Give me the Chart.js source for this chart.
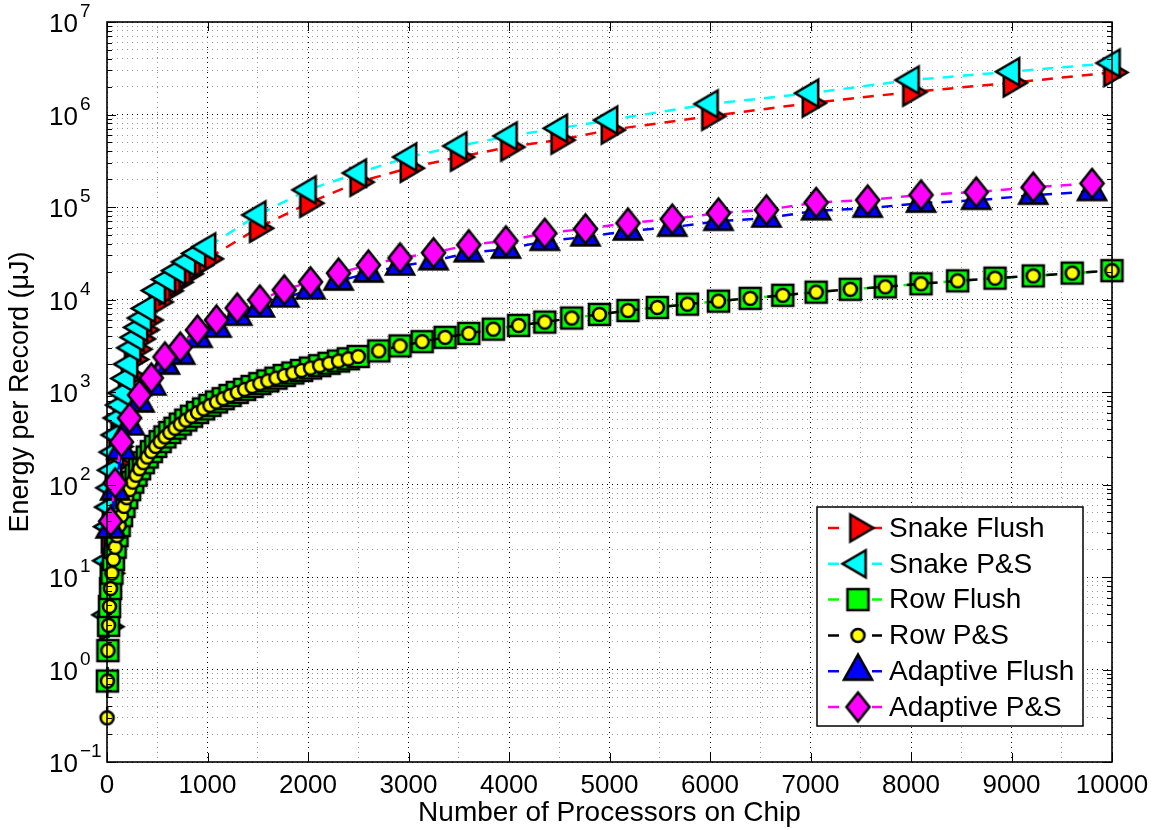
<!DOCTYPE html>
<html>
<head>
<meta charset="utf-8">
<title>Energy per Record</title>
<script src="https://cdn.jsdelivr.net/npm/chart.js@4.4.1/dist/chart.umd.min.js"></script>
<style>
  html, body { margin: 0; padding: 0; background: #fff; }
</style>
</head>
<body>
<canvas id="energyChart" width="1159" height="830"></canvas>
<script>
// values (x = processors on chip, y = energy per record in uJ)
const snakeProcs = [9, 16, 25, 36, 49, 64, 81, 100, 121, 144, 169, 196, 225, 256, 289, 324, 361, 400,
  500, 600, 700, 800, 900, 1000, 1500, 2000, 2500, 3000, 3500, 4000, 4500, 5000,
  6000, 7000, 8000, 9000, 10000];
const snakeFlush = [2.9, 11, 26, 43, 69, 107, 168, 257, 393, 542, 731, 1050, 1500, 2250, 2900, 3750, 4700, 6000,
  9400, 12400, 15400, 19000, 23500, 27500, 59000, 110000, 186000, 263000, 347000, 445000, 530000, 680000,
  960000, 1330000, 1750000, 2200000, 2850000];
const snakePS = [3.9, 15, 35, 57, 92, 143, 224, 343, 524, 723, 975, 1400, 2000, 3000, 3900, 5000, 6300, 8000,
  12500, 16500, 20500, 25500, 31500, 37000, 82000, 153000, 233000, 347000, 456000, 585000, 710000, 870000,
  1300000, 1700000, 2360000, 2900000, 3600000];

const rowProcs = [1, 4, 9, 16, 25, 36, 49, 64, 81, 100, 121, 144, 169, 196, 225, 256, 289, 324, 361, 400,
  441, 484, 529, 576, 625, 676, 729, 784, 841, 900, 961, 1024, 1089, 1156, 1225, 1296, 1369, 1444, 1521, 1600,
  1681, 1764, 1849, 1936, 2025, 2116, 2209, 2304, 2401, 2500, 2704, 2916, 3136, 3364, 3600, 3844, 4096, 4356,
  4624, 4900, 5184, 5476, 5776, 6084, 6400, 6724, 7056, 7396, 7744, 8100, 8464, 8836, 9216, 9604, 10000];
const rowFlush = [null, 0.75, 1.6, 3.0, 4.8, 7.5, 11, 15.5, 21, 28, 36, 46, 58, 72, 88, 106, 126, 148, 172, 198,
  227, 258, 291, 327, 365, 406, 450, 497, 547, 600, 657, 717, 780, 847, 917, 990, 1067, 1148, 1232, 1320,
  1412, 1508, 1607, 1710, 1817, 1928, 2043, 2162, 2285, 2420, 2780, 3150, 3500, 3900, 4300, 4780, 5250, 5700,
  6300, 6900, 7600, 8200, 8900, 9600, 10300, 11100, 12000, 12900, 13700, 14800, 15900, 17000, 18000, 19300, 20500];
const rowPS = [0.3, 0.75, 1.6, 3.0, 4.8, 7.5, 11, 15.5, 21, 28, 36, 46, 58, 72, 88, 106, 126, 148, 172, 198,
  227, 258, 291, 327, 365, 406, 450, 497, 547, 600, 657, 717, 780, 847, 917, 990, 1067, 1148, 1232, 1320,
  1412, 1508, 1607, 1710, 1817, 1928, 2043, 2162, 2285, 2420, 2780, 3150, 3500, 3900, 4300, 4780, 5250, 5700,
  6300, 6900, 7600, 8200, 8900, 9600, 10300, 11100, 12000, 12900, 13700, 14800, 15900, 17000, 18000, 19300, 20500];

const adaptProcs = [36, 81, 144, 225, 324, 441, 576, 729, 900, 1089, 1296, 1521, 1764, 2025, 2304, 2601,
  2916, 3249, 3600, 3969, 4356, 4761, 5184, 5625, 6084, 6561, 7056, 7569, 8100, 8649, 9216, 9801];
const adaptFlush = [33, 85, 235, 430, 760, 1160, 1950, 2500, 3800, 4900, 6600, 8100, 10400, 12700, 15800, 19300,
  23000, 26200, 32000, 35000, 42500, 47500, 55000, 60500, 70000, 76000, 91000, 97000, 110000, 118000, 134000, 147000];
const adaptPS = [40, 104, 288, 524, 929, 1417, 2390, 3060, 4680, 6000, 8090, 9890, 12700, 15500, 19300, 23600,
  28100, 32000, 39000, 43000, 52000, 58000, 67000, 74000, 86000, 93000, 112000, 119000, 135000, 145000, 164000, 180000];

const seriesNames = ['Snake Flush', 'Snake P&S', 'Row Flush', 'Row P&S', 'Adaptive Flush', 'Adaptive P&S'];
const xTickValues = [0, 1000, 2000, 3000, 4000, 5000, 6000, 7000, 8000, 9000, 10000];
const xMinorValues = [500, 1500, 2500, 3500, 4500, 5500, 6500, 7500, 8500, 9500];
const yExponents = [-1, 0, 1, 2, 3, 4, 5, 6, 7];
const yMinorMultiples = [2, 3, 4, 5, 6, 7, 8, 9];

const FONT = '"Liberation Sans", Arial, Helvetica, sans-serif';
Chart.defaults.font.family = FONT;
Chart.defaults.color = '#000';

// MATLAB-like marker with thick black edge, centred on its centroid
function markerCanvas(shape, fill) {
  const lw = 2.6, pad = 5;
  const polys = {
    right: [[-23 / 3, -13.5], [46 / 3, 0], [-23 / 3, 13.5]],
    left: [[23 / 3, -13.5], [-46 / 3, 0], [23 / 3, 13.5]],
    up: [[0, -50 / 3], [14, 25 / 3], [-14, 25 / 3]],
    square: [[-10.5, -10.5], [10.5, -10.5], [10.5, 10.5], [-10.5, 10.5]],
    diamond: [[0, -14.5], [11.5, 0], [0, 14.5], [-11.5, 0]]
  };
  const c = document.createElement('canvas');
  let hw = 6.5, hh = 6.5;
  if (polys[shape]) {
    hw = Math.max(...polys[shape].map(p => Math.abs(p[0])));
    hh = Math.max(...polys[shape].map(p => Math.abs(p[1])));
  }
  c.width = Math.ceil(2 * (hw + pad));
  c.height = Math.ceil(2 * (hh + pad));
  const g = c.getContext('2d');
  g.translate(c.width / 2, c.height / 2);
  g.beginPath();
  if (shape === 'circle') {
    g.arc(0, 0, 6.5, 0, Math.PI * 2);
  } else {
    polys[shape].forEach((p, i) => i ? g.lineTo(p[0], p[1]) : g.moveTo(p[0], p[1]));
    g.closePath();
  }
  g.fillStyle = fill;
  g.fill();
  g.lineWidth = lw;
  g.lineJoin = 'miter';
  g.strokeStyle = '#000';
  g.stroke();
  return c;
}

function points(xs, ys) {
  return xs.map((x, i) => ({ x: x, y: ys[i] }));
}

const datasets = [
  { label: seriesNames[0], data: points(snakeProcs, snakeFlush), borderColor: '#ff0000', pointStyle: markerCanvas('right', '#ff0000'), order: 6 },
  { label: seriesNames[1], data: points(snakeProcs, snakePS), borderColor: '#00ffff', pointStyle: markerCanvas('left', '#00ffff'), order: 5 },
  { label: seriesNames[2], data: points(rowProcs, rowFlush), borderColor: '#00ff00', pointStyle: markerCanvas('square', '#00ff00'), order: 4 },
  { label: seriesNames[3], data: points(rowProcs, rowPS), borderColor: '#000000', pointStyle: markerCanvas('circle', '#ffff00'), order: 3 },
  { label: seriesNames[4], data: points(adaptProcs, adaptFlush), borderColor: '#0000ff', pointStyle: markerCanvas('up', '#0000ff'), order: 2 },
  { label: seriesNames[5], data: points(adaptProcs, adaptPS), borderColor: '#ff00ff', pointStyle: markerCanvas('diamond', '#ff00ff'), order: 1 }
].map(d => Object.assign({
  borderWidth: 2.5, borderDash: [11, 9], pointRadius: 12, pointHoverRadius: 12,
  fill: false, tension: 0, clip: false, showLine: true
}, d));

function isDecade(v) {
  const l = Math.log10(v);
  return Math.abs(l - Math.round(l)) < 1e-6;
}

// inward ticks and the box round the axes
const axesFrame = {
  id: 'axesFrame',
  afterDatasetsDraw(chart) {
    const { ctx, chartArea: a, scales: { x, y } } = chart;
    ctx.save();
    ctx.strokeStyle = '#000';
    ctx.lineWidth = 1;
    ctx.beginPath();
    xTickValues.forEach(v => {
      const px = Math.round(x.getPixelForValue(v)) + 0.5;
      ctx.moveTo(px, a.bottom); ctx.lineTo(px, a.bottom - 9);
      ctx.moveTo(px, a.top); ctx.lineTo(px, a.top + 9);
    });
    yExponents.forEach(e => {
      const py = Math.round(y.getPixelForValue(Math.pow(10, e))) + 0.5;
      ctx.moveTo(a.left, py); ctx.lineTo(a.left + 9, py);
      ctx.moveTo(a.right, py); ctx.lineTo(a.right - 9, py);
      if (e < 7) {
        yMinorMultiples.forEach(m => {
          const pm = Math.round(y.getPixelForValue(m * Math.pow(10, e))) + 0.5;
          ctx.moveTo(a.left, pm); ctx.lineTo(a.left + 5, pm);
          ctx.moveTo(a.right, pm); ctx.lineTo(a.right - 5, pm);
        });
      }
    });
    ctx.stroke();
    ctx.lineWidth = 1.6;
    ctx.strokeRect(a.left, a.top, a.right - a.left, a.bottom - a.top);
    ctx.restore();
  }
};

// 10^k labels on the log axis
const logAxisLabels = {
  id: 'logAxisLabels',
  afterDraw(chart) {
    const { ctx, scales: { y } } = chart;
    ctx.save();
    ctx.fillStyle = '#000';
    ctx.textBaseline = 'middle';
    ctx.textAlign = 'left';
    yExponents.forEach(e => {
      const py = y.getPixelForValue(Math.pow(10, e));
      ctx.font = '26px ' + FONT;
      ctx.fillText('10', 49, py + 3);
      const w = ctx.measureText('10').width;
      ctx.font = '19px ' + FONT;
      ctx.fillText(String(e).replace('-', '\u2212'), 49 + w + 2, py - 10);
    });
    ctx.restore();
  }
};

// boxed legend inside the axes, line - marker - line
const boxedLegend = {
  id: 'boxedLegend',
  afterDraw(chart) {
    const { ctx, chartArea: a } = chart;
    const left = a.right - 295, top = a.bottom - 255, w = 266, h = 219;
    ctx.save();
    ctx.fillStyle = '#fff';
    ctx.fillRect(left, top, w, h);
    ctx.strokeStyle = '#000';
    ctx.lineWidth = 1.5;
    ctx.strokeRect(left, top, w, h);
    chart.data.datasets.forEach((ds, i) => {
      const cy = top + 21 + i * 35.8;
      ctx.strokeStyle = ds.borderColor;
      ctx.lineWidth = 2.5;
      ctx.beginPath();
      ctx.moveTo(left + 11, cy); ctx.lineTo(left + 22, cy);
      ctx.moveTo(left + 55, cy); ctx.lineTo(left + 65, cy);
      ctx.stroke();
      const img = ds.pointStyle;
      ctx.drawImage(img, left + 41 - img.width / 2, cy - img.height / 2);
      ctx.fillStyle = '#000';
      ctx.font = '28px ' + FONT;
      ctx.textBaseline = 'middle';
      ctx.textAlign = 'left';
      ctx.fillText(ds.label, left + 72, cy + 1);
    });
    ctx.restore();
  }
};

const energyChart = document.getElementById('energyChart').getContext('2d');
new Chart(energyChart, {
  type: 'line',
  data: { datasets: datasets },
  options: {
    responsive: false,
    animation: false,
    devicePixelRatio: 1,
    layout: { padding: { top: 22, right: 47, bottom: 0, left: 0 } },
    plugins: { legend: { display: false }, tooltip: { enabled: false } },
    scales: {
      x: {
        type: 'linear',
        min: 0,
        max: 10000,
        afterBuildTicks: s => {
          s.ticks = xTickValues.concat(xMinorValues).sort((p, q) => p - q).map(v => ({ value: v }));
        },
        afterFit: s => { s.height = 68; },
        grid: {
          drawTicks: false,
          color: c => (c.tick && c.tick.value % 1000 === 0) ? '#000000' : '#9a9a9a',
          lineWidth: 1
        },
        border: { display: false, dash: [1, 4] },
        ticks: {
          autoSkip: false,
          maxRotation: 0,
          padding: 8,
          font: { size: 26 },
          callback: v => xTickValues.includes(v) ? String(v) : ''
        },
        title: {
          display: true,
          text: 'Number of Processors on Chip',
          font: { size: 28 },
          padding: { top: 0, bottom: 0 }
        }
      },
      y: {
        type: 'logarithmic',
        min: 0.1,
        max: 1e7,
        afterBuildTicks: s => {
          const t = [];
          yExponents.forEach(e => {
            t.push({ value: Math.pow(10, e), major: true });
            if (e < 7) yMinorMultiples.forEach(m => t.push({ value: m * Math.pow(10, e) }));
          });
          s.ticks = t;
        },
        afterFit: s => { s.width = 107; },
        grid: {
          drawTicks: false,
          color: c => (c.tick && isDecade(c.tick.value)) ? '#000000' : '#9a9a9a',
          lineWidth: 1
        },
        border: { display: false, dash: [1, 4] },
        ticks: { display: false },
        title: {
          display: true,
          text: 'Energy per Record (\u03bcJ)',
          font: { size: 27 },
          padding: { top: 4, bottom: 0 }
        }
      }
    }
  },
  plugins: [axesFrame, logAxisLabels, boxedLegend]
});
</script>
</body>
</html>
